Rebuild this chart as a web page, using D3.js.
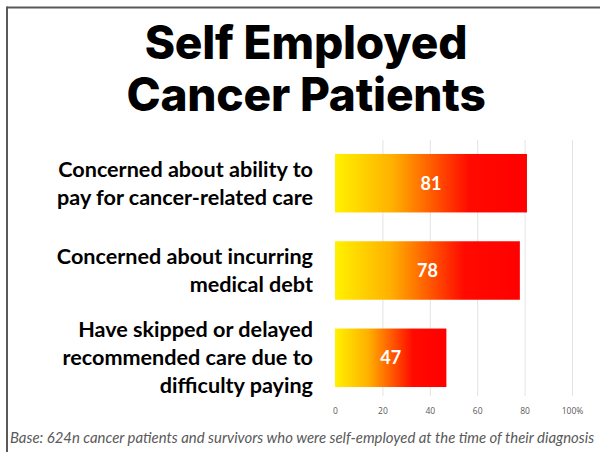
<!DOCTYPE html>
<html>
<head>
<meta charset="utf-8">
<script src="https://cdn.jsdelivr.net/npm/d3@7"></script>
<style>
  html, body { margin: 0; padding: 0; background: #fff; }
  svg { display: block; }
</style>
</head>
<body>
<svg id="chart" width="600" height="452"></svg>
<script>
// Survey results: share of self-employed cancer patients (%)
const categories = [
  ["Concerned about ability to", "pay for cancer-related care"],
  ["Concerned about incurring", "medical debt"],
  ["Have skipped or delayed", "recommended care due to", "difficulty paying"]
];
const values = [81, 78, 47];
const tickValues = [0, 20, 40, 60, 80, 100];
const tickLabels = ["0", "20", "40", "60", "80", "100%"];
const titleLines = ["Self Employed", "Cancer Patients"];
const footnote = "Base: 624n cancer patients and survivors who were self-employed at the time of their diagnosis";

const svg = d3.select("#chart");

// frame: top and left rules
svg.append("line").attr("x1", 7).attr("x2", 600).attr("y1", 7.5).attr("y2", 7.5)
  .attr("stroke", "#595959").attr("stroke-width", 2);
svg.append("line").attr("x1", 7).attr("x2", 7).attr("y1", 6.5).attr("y2", 452)
  .attr("stroke", "#595959").attr("stroke-width", 2);

// title
svg.append("g").selectAll("text").data(titleLines).join("text")
  .attr("x", 306)
  .attr("y", (d, i) => 59 + i * 52)
  .attr("text-anchor", "middle")
  .attr("font-family", "Inter, 'Noto Sans', sans-serif")
  .attr("font-weight", 800)
  .attr("font-size", 46)
  .attr("letter-spacing", -0.2)
  .attr("fill", "#000")
  .text(d => d);

// scales
const x = d3.scaleLinear().domain([0, 100]).range([335, 572]);
const y = d3.scaleBand().domain(d3.range(values.length)).range([140, 401]).paddingInner(0.33).paddingOuter(0.16);

// gradient fill for bars
const defs = svg.append("defs");
const grad = defs.append("linearGradient").attr("id", "barGrad")
  .attr("x1", "0%").attr("x2", "100%").attr("y1", "0%").attr("y2", "0%");
[[0, "#fff200"], [0.3, "#ffb000"], [0.7, "#ff0a00"], [1, "#ff0000"]].forEach(([o, c]) =>
  grad.append("stop").attr("offset", o).attr("stop-color", c));

// gridlines
svg.append("g").selectAll("line").data(tickValues.slice(1)).join("line")
  .attr("x1", d => x(d) + 0.5).attr("x2", d => x(d) + 0.5)
  .attr("y1", 140).attr("y2", 396)
  .attr("stroke", "#e3e3e3").attr("stroke-width", 1);

// x axis tick labels
const axis = d3.axisBottom(x).tickValues(tickValues).tickSize(0)
  .tickFormat((d, i) => tickLabels[i]);
const ax = svg.append("g").attr("transform", "translate(0,405)").call(axis);
ax.select(".domain").remove();
ax.selectAll("text")
  .attr("font-family", "'Open Sans', sans-serif")
  .attr("font-size", 8.5)
  .attr("fill", "#595959");

// bars
svg.append("g").selectAll("rect").data(values).join("rect")
  .attr("x", x(0))
  .attr("y", (d, i) => y(i))
  .attr("width", d => x(d) - x(0))
  .attr("height", y.bandwidth())
  .attr("fill", "url(#barGrad)");

// value labels
svg.append("g").selectAll("text").data(values).join("text")
  .attr("x", d => (x(0) + x(d)) / 2)
  .attr("y", (d, i) => y(i) + y.bandwidth() / 2)
  .attr("dy", "0.36em")
  .attr("text-anchor", "middle")
  .attr("font-family", "Lato, sans-serif")
  .attr("font-weight", 700)
  .attr("font-size", 18)
  .attr("fill", "#fff")
  .text(d => d);

// category labels
const lineH = 28;
svg.append("g").selectAll("text").data(categories).join("text")
  .attr("text-anchor", "end")
  .attr("font-family", "Lato, sans-serif")
  .attr("font-weight", 700)
  .attr("font-size", 21.6)
  .attr("fill", "#000")
  .each(function (lines, i) {
    const cy = y(i) + y.bandwidth() / 2;
    const start = cy - (lines.length - 1) * lineH / 2;
    d3.select(this).selectAll("tspan").data(lines).join("tspan")
      .attr("x", 313)
      .attr("y", (d, j) => start + j * lineH)
      .attr("dy", "0.35em")
      .text(d => d);
  });

// footnote
svg.append("text")
  .attr("x", 10).attr("y", 443)
  .attr("font-family", "Lato, sans-serif")
  .attr("font-style", "italic")
  .attr("font-size", 14.9)
  .attr("fill", "#595959")
  .text(footnote);
</script>
</body>
</html>
